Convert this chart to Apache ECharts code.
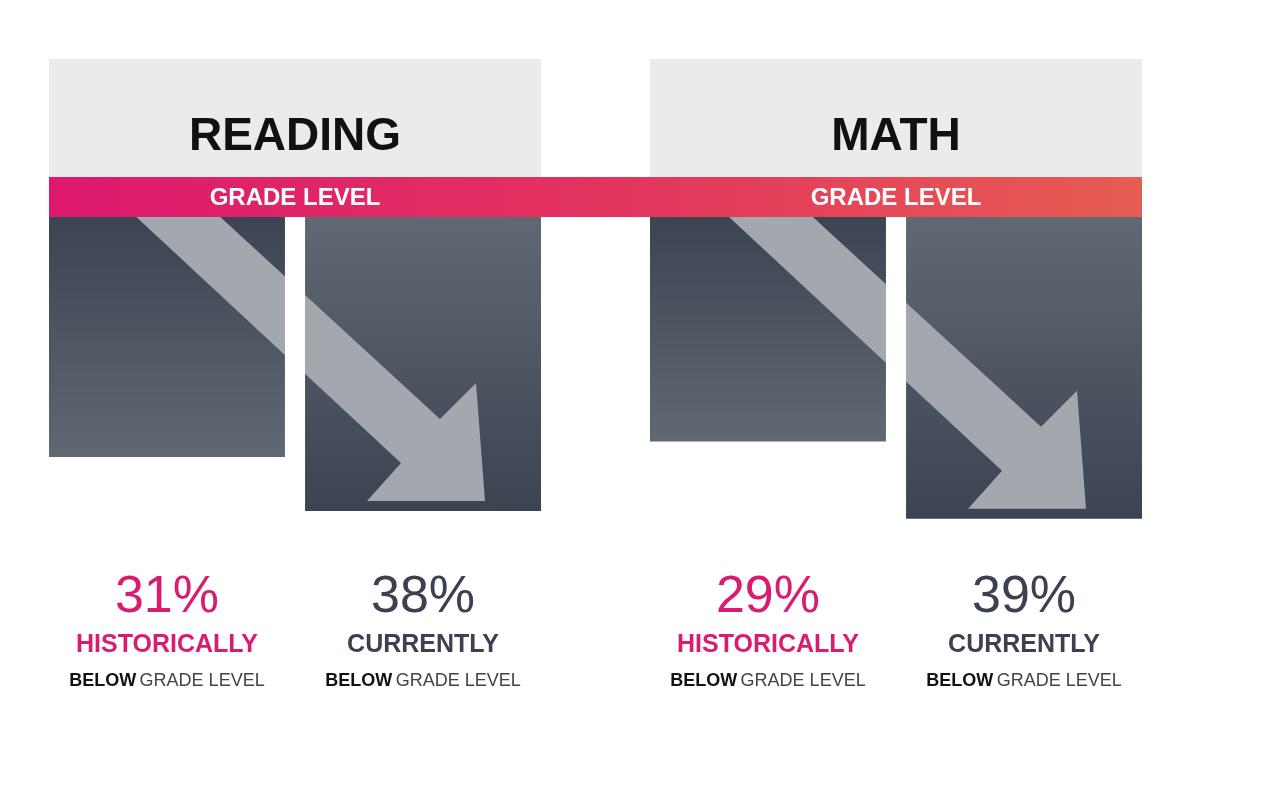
<!DOCTYPE html>
<html>
<head>
<meta charset="utf-8">
<script src="https://cdn.jsdelivr.net/npm/echarts@6/dist/echarts.min.js"></script>
<style>
    html, body {margin: 0; padding: 0; background: #fff;}
    #main {width: 1282px; height: 808px;}
</style>
</head>
<body>
<div id="main"></div>
<script>
    "use strict";
    // 科目
    var subjects = ['READING', 'MATH'];
    // 低于年级水平的比例(%)
    var historically = [31, 29];
    var currently = [38, 39];
    // 标签
    var bandLabel = 'GRADE LEVEL';
    var histLabel = 'HISTORICALLY';
    var curLabel = 'CURRENTLY';

    var FONT = '"Liberation Sans", Arial, sans-serif';
    var PINK = '#d91c70';
    var DARK = '#3b4150';
    var panelLeft = [49, 650];
    var panelWidth = 492;
    var bandTop = 177, bandBottom = 217;

    var histColor = new echarts.graphic.LinearGradient(0, 0, 0, 1, [
        {offset: 0, color: '#3c4351'}, {offset: 1, color: '#606973'}
    ]);
    var curColor = new echarts.graphic.LinearGradient(0, 0, 0, 1, [
        {offset: 0, color: '#606973'}, {offset: 1, color: '#3c4351'}
    ]);

    var grids = [], xAxes = [], yAxes = [], series = [];
    for (var i = 0; i < subjects.length; i++) {
        grids.push({left: panelLeft[i], width: panelWidth, top: bandBottom, height: 387});
        xAxes.push({type: 'category', gridIndex: i, data: [subjects[i]], show: false});
        yAxes.push({type: 'value', gridIndex: i, min: 0, max: 50, inverse: true, show: false});
        series.push({
            type: 'bar', xAxisIndex: i, yAxisIndex: i, data: [historically[i]],
            barWidth: 236, barGap: '8.5%', itemStyle: {color: histColor}, silent: true
        });
        series.push({
            type: 'bar', xAxisIndex: i, yAxisIndex: i, data: [currently[i]],
            barWidth: 236, barGap: '8.5%', itemStyle: {color: curColor}, silent: true
        });
    }

    var myChart = echarts.init(document.getElementById('main'), null, {renderer: 'canvas'});
    myChart.setOption({
        animation: false,
        backgroundColor: '#fff',
        grid: grids,
        xAxis: xAxes,
        yAxis: yAxes,
        series: series
    });

    // 取柱子位置
    function barRect(idx) {
        var l = myChart.getModel().getSeriesByIndex(idx).getData().getItemLayout(0);
        var y0 = Math.min(l.y, l.y + l.height), y1 = Math.max(l.y, l.y + l.height);
        return {x: l.x, w: l.width, y0: y0, y1: y1};
    }

    var graphics = [];
    var bandRight = panelLeft[1] + panelWidth;
    for (var i = 0; i < subjects.length; i++) {
        var left = panelLeft[i];
        var hb = barRect(i * 2), cb = barRect(i * 2 + 1);
        var cx = left + panelWidth / 2;
        // 标题背景
        graphics.push({type: 'rect', z: 1, shape: {x: left, y: 59, width: panelWidth, height: bandTop - 59}, style: {fill: '#ebebed'}});
        graphics.push({type: 'text', z: 20, x: cx, y: 137, style: {
            text: subjects[i], fill: '#111', font: 'bold 46px ' + FONT, align: 'center', verticalAlign: 'middle'
        }});
        graphics.push({type: 'text', z: 30, x: cx, y: 198, style: {
            text: bandLabel, fill: '#fff', font: 'bold 24px ' + FONT, align: 'center', verticalAlign: 'middle'
        }});
        // 箭头
        var b = cb.y1;
        var un = [left + 391, b - 92], ht = [left + 427, b - 128], tp = [left + 436, b - 10],
            hl = [left + 318, b - 10], ln = [left + 352, b - 48];
        var ut = [un[0] - (un[1] - bandBottom) / 0.92, bandBottom];
        var lt = [ln[0] - (ln[1] - bandBottom) / 0.93, bandBottom];
        graphics.push({type: 'polygon', z: 10, shape: {points: [lt, ut, un, ht, tp, hl, ln]}, style: {fill: '#a3a7ae'}});
        // 柱间空白
        graphics.push({type: 'rect', z: 11, shape: {x: hb.x + hb.w, y: bandBottom, width: cb.x - hb.x - hb.w, height: cb.y1 - bandBottom + 2}, style: {fill: '#fff'}});

        // 底部文字
        var cols = [
            {c: hb.x + hb.w / 2, v: historically[i], t: histLabel, col: PINK},
            {c: cb.x + cb.w / 2, v: currently[i], t: curLabel, col: DARK}
        ];
        cols.forEach(function (o) {
            graphics.push({type: 'text', z: 20, x: o.c, y: 598, style: {
                text: o.v + '%', fill: o.col, font: '52px ' + FONT, align: 'center', verticalAlign: 'middle'
            }});
            graphics.push({type: 'text', z: 20, x: o.c, y: 645, style: {
                text: o.t, fill: o.col, font: 'bold 25px ' + FONT, align: 'center', verticalAlign: 'middle'
            }});
            graphics.push({type: 'text', z: 20, x: o.c, y: 681, style: {
                text: '{b|BELOW} {r|GRADE LEVEL}', align: 'center', verticalAlign: 'middle',
                rich: {
                    b: {font: 'bold 18px ' + FONT, fill: '#111'},
                    r: {font: '18px ' + FONT, fill: '#444'}
                }
            }});
        });
    }
    // 年级水平带
    graphics.push({type: 'rect', z: 25, shape: {x: panelLeft[0], y: bandTop, width: bandRight - panelLeft[0], height: bandBottom - bandTop},
        style: {fill: new echarts.graphic.LinearGradient(0, 0, 1, 0, [
            {offset: 0, color: '#dd196e'}, {offset: 0.5, color: '#e2335f'}, {offset: 1, color: '#e65d52'}
        ])}});

    myChart.setOption({graphic: {elements: graphics}});
</script>
</body>
</html>
